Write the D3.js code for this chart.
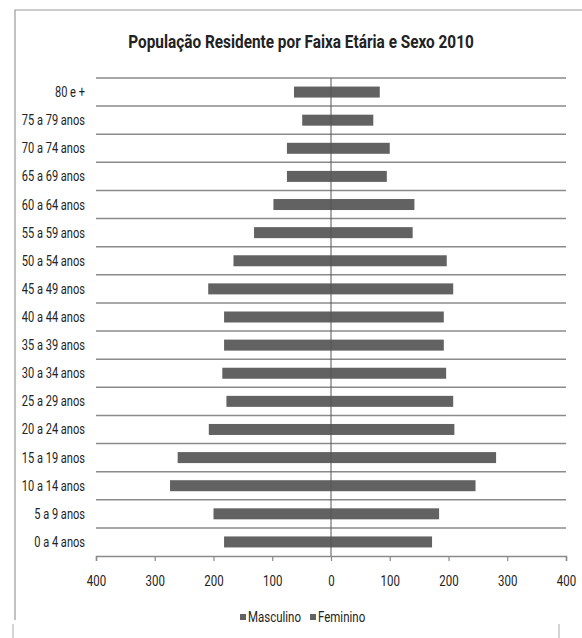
<!DOCTYPE html>
<html>
<head>
<meta charset="utf-8">
<title>Pirâmide etária 2010</title>
<script src="https://cdn.jsdelivr.net/npm/d3@7"></script>
<style>
*{
	margin: 0;
	padding: 0;
}
body{
	background: #fff;
}
text{
	font-family: Roboto, "Open Sans", sans-serif;
	fill: #222;
}
</style>
</head>
<body>
<script>

	var width = 582;
	var height = 638;

	// faixas etárias, de cima para baixo
	var faixas = ["80 e +", "75 a 79 anos", "70 a 74 anos", "65 a 69 anos", "60 a 64 anos",
				  "55 a 59 anos", "50 a 54 anos", "45 a 49 anos", "40 a 44 anos", "35 a 39 anos",
				  "30 a 34 anos", "25 a 29 anos", "20 a 24 anos", "15 a 19 anos", "10 a 14 anos",
				  "5 a 9 anos", "0 a 4 anos"];
	var masculino = [63, 49, 75, 75, 98, 131, 166, 209, 182, 182, 185, 178, 208, 261, 274, 200, 182];
	var feminino  = [83, 72, 100, 95, 142, 139, 197, 208, 192, 192, 196, 208, 210, 281, 246, 184, 172];
	var ticks = [-400, -300, -200, -100, 0, 100, 200, 300, 400];
	var series = ["Masculino", "Feminino"];

	var cor = "#626262";

	var svg = d3.select("body")
				.append("svg")
				.attr("width", width)
				.attr("height", height);

	// a fonte do original (Calibri) é estreita: comprime o texto na horizontal
	function aperta(sel, sx){
		sel.each(function(){
			var t = d3.select(this);
			var tx = +t.attr("x") || 0, ty = +t.attr("y") || 0;
			t.attr("x", 0).attr("y", 0)
			 .attr("transform", "translate(" + tx + "," + ty + ") scale(" + sx + ",1)");
		});
	}

	// moldura do gráfico
	svg.append("path")
		.attr("d", "M15,620 L15,10 L582,10")
		.attr("fill", "none")
		.attr("stroke", "#999")
		.attr("stroke-width", 1.2);
	svg.append("line")
		.attr("x1", 13).attr("x2", 13).attr("y1", 624).attr("y2", 638)
		.attr("stroke", "#aaa");
	svg.append("line")
		.attr("x1", 559).attr("x2", 559).attr("y1", 624).attr("y2", 638)
		.attr("stroke", "#aaa");

	svg.append("text")
		.attr("x", 301)
		.attr("y", 48)
		.attr("text-anchor", "middle")
		.attr("font-size", 18.5)
		.attr("font-weight", "bold")
		.text("População Residente por Faixa Etária e Sexo 2010")
		.call(aperta, 0.83);

	var x = d3.scaleLinear().domain([-400, 400]).range([96, 566]);
	var y = d3.scaleBand().domain(faixas).range([78, 556]);
	var barH = 11;

	// linhas de grade
	svg.append("g").selectAll("line").data(faixas).enter().append("line")
		.attr("x1", x(-400))
		.attr("x2", x(400))
		.attr("y1", (d)=>y(d))
		.attr("y2", (d)=>y(d))
		.attr("stroke", "#8a8a8a")
		.attr("stroke-width", 1.5);

	// barras
	var linhas = faixas.map((f, i)=>({f: f, m: masculino[i], h: feminino[i]}));

	svg.append("g").selectAll("rect").data(linhas).enter().append("rect")
		.attr("x", (d)=>x(-d.m))
		.attr("y", (d)=>y(d.f) + (y.bandwidth() - barH) / 2)
		.attr("width", (d)=>x(0) - x(-d.m))
		.attr("height", barH)
		.attr("fill", cor);

	svg.append("g").selectAll("rect").data(linhas).enter().append("rect")
		.attr("x", x(0))
		.attr("y", (d)=>y(d.f) + (y.bandwidth() - barH) / 2)
		.attr("width", (d)=>x(d.h) - x(0))
		.attr("height", barH)
		.attr("fill", cor);

	// linha do zero
	svg.append("line")
		.attr("x1", x(0)).attr("x2", x(0))
		.attr("y1", 78).attr("y2", 556)
		.attr("stroke", "#555")
		.attr("stroke-width", 1);

	// rótulos das faixas
	svg.append("g").selectAll("text").data(faixas).enter().append("text")
		.attr("x", 85)
		.attr("y", (d)=>y(d) + y.bandwidth() / 2 + 5)
		.attr("text-anchor", "end")
		.attr("font-size", 14)
		.text((d)=>d)
		.call(aperta, 0.79);

	// eixo x
	var eixo = svg.append("g")
		.attr("transform", "translate(0,556)")
		.attr("font-family", null)
		.call(d3.axisBottom(x).tickValues(ticks).tickSize(5).tickFormat((d)=>Math.abs(d)));
	eixo.select(".domain").attr("stroke", "#8a8a8a").attr("stroke-width", 1.5);
	eixo.selectAll(".tick line").attr("stroke", "#8a8a8a").attr("stroke-width", 1.2);
	eixo.selectAll(".tick text")
		.attr("dy", null)
		.attr("y", 30)
		.attr("font-size", 14)
		.attr("fill", "#222")
		.call(aperta, 0.82);

	// legenda
	var leg = svg.append("g").selectAll("g").data(series).enter().append("g")
		.attr("transform", (d, i)=>"translate(" + [240, 310][i] + ",617)");
	leg.append("rect")
		.attr("x", 0).attr("y", -3)
		.attr("width", 6).attr("height", 6)
		.attr("fill", cor);
	leg.append("text")
		.attr("x", 8)
		.attr("y", 5)
		.attr("font-size", 14)
		.text((d)=>d)
		.call(aperta, 0.82);

</script>
</body>
</html>
